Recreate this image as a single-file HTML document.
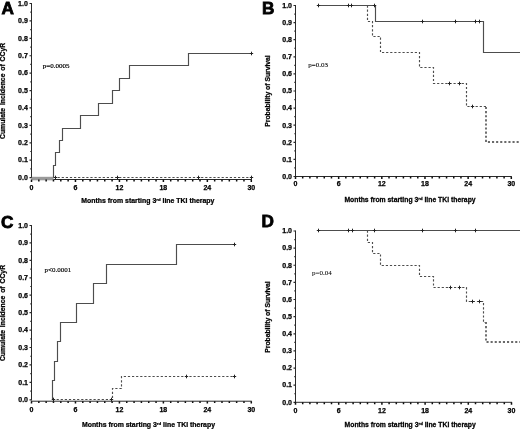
<!DOCTYPE html>
<html><head><meta charset="utf-8"><style>
html,body{margin:0;padding:0;background:#fff;width:520px;height:429px;overflow:hidden}
svg{display:block;filter:blur(0.3px)}
.t{font-family:"Liberation Sans",sans-serif;font-weight:bold;font-size:7px;fill:#000;stroke:#000;stroke-width:0.25px}
.L{font-family:"Liberation Sans",sans-serif;font-weight:bold;font-size:17.2px;fill:#000;stroke:#000;stroke-width:0.8px}
.p{font-family:"Liberation Serif",serif;font-size:7px;fill:#000;stroke:#000;stroke-width:0.2px}
</style></head><body>
<svg width="520" height="429" viewBox="0 0 520 429">
<rect width="520" height="429" fill="#fff"/>
<g>
<path d="M31.5 3 V178.2" stroke="#2a2a2a" stroke-width="1" fill="none"/>
<path d="M53.5 179.5 H251.8" stroke="#2a2a2a" stroke-width="1" fill="none"/>
<rect x="31.5" y="176.8" width="22" height="3.5" fill="#9a9a9a"/>
<path d="M29.5 177.6 H31.5 M30.3 168.89 H31.5 M29.5 160.19 H31.5 M30.3 151.48 H31.5 M29.5 142.78 H31.5 M30.3 134.07 H31.5 M29.5 125.37 H31.5 M30.3 116.66 H31.5 M29.5 107.96 H31.5 M30.3 99.25 H31.5 M29.5 90.55 H31.5 M30.3 81.84 H31.5 M29.5 73.14 H31.5 M30.3 64.43 H31.5 M29.5 55.73 H31.5 M30.3 47.03 H31.5 M29.5 38.32 H31.5 M30.3 29.61 H31.5 M29.5 20.91 H31.5 M30.3 12.2 H31.5 M29.5 3.5 H31.5 " stroke="#2a2a2a" stroke-width="1.2" fill="none"/>
<path d="M31.5 179.5 V181.9 M38.83 179.5 V181.4 M46.15 179.5 V181.4 M53.48 179.5 V181.4 M60.81 179.5 V181.4 M68.13 179.5 V181.4 M75.46 179.5 V181.9 M82.79 179.5 V181.4 M90.11 179.5 V181.4 M97.44 179.5 V181.4 M104.77 179.5 V181.4 M112.09 179.5 V181.4 M119.42 179.5 V181.9 M126.75 179.5 V181.4 M134.07 179.5 V181.4 M141.4 179.5 V181.4 M148.73 179.5 V181.4 M156.05 179.5 V181.4 M163.38 179.5 V181.9 M170.71 179.5 V181.4 M178.03 179.5 V181.4 M185.36 179.5 V181.4 M192.69 179.5 V181.4 M200.01 179.5 V181.4 M207.34 179.5 V181.9 M214.67 179.5 V181.4 M221.99 179.5 V181.4 M229.32 179.5 V181.4 M236.65 179.5 V181.4 M243.97 179.5 V181.4 M251.3 179.5 V181.9 " stroke="#111" stroke-width="1.5" fill="none"/>
<text class="t" x="27.8" y="179.9" text-anchor="end">0.0</text>
<text class="t" x="27.8" y="162.49" text-anchor="end">0.1</text>
<text class="t" x="27.8" y="145.08" text-anchor="end">0.2</text>
<text class="t" x="27.8" y="127.67" text-anchor="end">0.3</text>
<text class="t" x="27.8" y="110.26" text-anchor="end">0.4</text>
<text class="t" x="27.8" y="92.85" text-anchor="end">0.5</text>
<text class="t" x="27.8" y="75.44" text-anchor="end">0.6</text>
<text class="t" x="27.8" y="58.03" text-anchor="end">0.7</text>
<text class="t" x="27.8" y="40.62" text-anchor="end">0.8</text>
<text class="t" x="27.8" y="23.21" text-anchor="end">0.9</text>
<text class="t" x="27.8" y="5.8" text-anchor="end">1.0</text>
<text class="t" x="31.5" y="189.8" text-anchor="middle">0</text>
<text class="t" x="75.46" y="189.8" text-anchor="middle">6</text>
<text class="t" x="119.42" y="189.8" text-anchor="middle">12</text>
<text class="t" x="163.38" y="189.8" text-anchor="middle">18</text>
<text class="t" x="207.34" y="189.8" text-anchor="middle">24</text>
<text class="t" x="251.3" y="189.8" text-anchor="middle">30</text>
<text class="t" transform="translate(81.3 203) scale(0.99 1)">Months from starting 3<tspan font-size="4.4" dy="-2">rd</tspan><tspan dy="2"> line TKI therapy</tspan></text>
<text class="t" transform="translate(4.5 90.9) rotate(-90) scale(0.975 1)" text-anchor="middle" word-spacing="1.0">Cumulate Incidence of CCyR</text>
<text class="L" x="1.4" y="14.05">A</text>
<text class="p" transform="translate(42.8 68) scale(1 1)" style="stroke-width:0.2px">p=0.0005</text>
<path d="M53.5 177.5 L251.5 177.5" stroke="#4d4d4d" stroke-width="1.15" fill="none" stroke-dasharray="2.2 1.9"/>
<path d="M53.5 177.5 L53.5 165.5 L55.5 165.5 L55.5 152.5 L59.5 152.5 L59.5 140.5 L62.5 140.5 L62.5 128.5 L80.5 128.5 L80.5 115.5 L98.5 115.5 L98.5 103.5 L112.5 103.5 L112.5 90.5 L119.5 90.5 L119.5 78.5 L129.5 78.5 L129.5 65.5 L188.5 65.5 L188.5 53.5 L251.5 53.5" stroke="#4d4d4d" stroke-width="1.15" fill="none"/>
<path d="M251.5 51.7 V55.3 M249.8 53.5 H253.2 M55.5 175.7 V179.3 M53.8 177.5 H57.2 M117.5 175.7 V179.3 M115.8 177.5 H119.2 M198.5 175.7 V179.3 M196.8 177.5 H200.2 M251.5 175.7 V179.3 M249.8 177.5 H253.2 " stroke="#222" stroke-width="1" fill="none"/>
</g>
<g>
<path d="M295.5 5 V177.1" stroke="#2a2a2a" stroke-width="1" fill="none"/>
<path d="M295 176.5 H511.8" stroke="#2a2a2a" stroke-width="1" fill="none"/>
<path d="M293.5 176.5 H295.5 M294.3 167.95 H295.5 M293.5 159.4 H295.5 M294.3 150.85 H295.5 M293.5 142.3 H295.5 M294.3 133.75 H295.5 M293.5 125.2 H295.5 M294.3 116.65 H295.5 M293.5 108.1 H295.5 M294.3 99.55 H295.5 M293.5 91 H295.5 M294.3 82.45 H295.5 M293.5 73.9 H295.5 M294.3 65.35 H295.5 M293.5 56.8 H295.5 M294.3 48.25 H295.5 M293.5 39.7 H295.5 M294.3 31.15 H295.5 M293.5 22.6 H295.5 M294.3 14.05 H295.5 M293.5 5.5 H295.5 " stroke="#2a2a2a" stroke-width="1.2" fill="none"/>
<path d="M295.5 176.5 V178.9 M302.69 176.5 V178.4 M309.89 176.5 V178.4 M317.08 176.5 V178.4 M324.27 176.5 V178.4 M331.47 176.5 V178.4 M338.66 176.5 V178.9 M345.85 176.5 V178.4 M353.05 176.5 V178.4 M360.24 176.5 V178.4 M367.43 176.5 V178.4 M374.63 176.5 V178.4 M381.82 176.5 V178.9 M389.01 176.5 V178.4 M396.21 176.5 V178.4 M403.4 176.5 V178.4 M410.59 176.5 V178.4 M417.79 176.5 V178.4 M424.98 176.5 V178.9 M432.17 176.5 V178.4 M439.37 176.5 V178.4 M446.56 176.5 V178.4 M453.75 176.5 V178.4 M460.95 176.5 V178.4 M468.14 176.5 V178.9 M475.33 176.5 V178.4 M482.53 176.5 V178.4 M489.72 176.5 V178.4 M496.91 176.5 V178.4 M504.11 176.5 V178.4 M511.3 176.5 V178.9 " stroke="#111" stroke-width="1.5" fill="none"/>
<text class="t" x="292" y="178.8" text-anchor="end">0.0</text>
<text class="t" x="292" y="161.7" text-anchor="end">0.1</text>
<text class="t" x="292" y="144.6" text-anchor="end">0.2</text>
<text class="t" x="292" y="127.5" text-anchor="end">0.3</text>
<text class="t" x="292" y="110.4" text-anchor="end">0.4</text>
<text class="t" x="292" y="93.3" text-anchor="end">0.5</text>
<text class="t" x="292" y="76.2" text-anchor="end">0.6</text>
<text class="t" x="292" y="59.1" text-anchor="end">0.7</text>
<text class="t" x="292" y="42" text-anchor="end">0.8</text>
<text class="t" x="292" y="24.9" text-anchor="end">0.9</text>
<text class="t" x="292" y="7.8" text-anchor="end">1.0</text>
<text class="t" x="295.5" y="186.2" text-anchor="middle">0</text>
<text class="t" x="338.66" y="186.2" text-anchor="middle">6</text>
<text class="t" x="381.82" y="186.2" text-anchor="middle">12</text>
<text class="t" x="424.98" y="186.2" text-anchor="middle">18</text>
<text class="t" x="468.14" y="186.2" text-anchor="middle">24</text>
<text class="t" x="511.3" y="186.2" text-anchor="middle">30</text>
<text class="t" transform="translate(344.4 201.8) scale(0.975 1)">Months from starting 3<tspan font-size="4.4" dy="-2">rd</tspan><tspan dy="2"> line TKI therapy</tspan></text>
<text class="t" transform="translate(269.8 91) rotate(-90) scale(0.97 1)" text-anchor="middle" word-spacing="0">Probability of Survival</text>
<text class="L" x="261.9" y="14.05">B</text>
<text class="p" transform="translate(308.3 67.3) scale(1 1)" style="stroke-width:0.08px">p=0.03</text>
<path d="M367.5 5.5 L367.5 21.5 L372.5 21.5 L372.5 36.5 L380.5 36.5 L380.5 52.5 L419.5 52.5 L419.5 67.5 L433.5 67.5 L433.5 83.5 L466.5 83.5 L466.5 106.5 L486.5 106.5" stroke="#4d4d4d" stroke-width="1.15" fill="none" stroke-dasharray="2.2 1.9"/>
<path d="M486 107 L486 142 L520 142" stroke="#6a6a6a" stroke-width="1.9" fill="none" stroke-dasharray="2.1 2.0"/>
<path d="M318.5 5.5 L375.5 5.5 L375.5 21.5 L483.5 21.5 L483.5 52.5 L520 52.5" stroke="#4d4d4d" stroke-width="1.15" fill="none"/>
<path d="M318.5 3.7 V7.3 M316.8 5.5 H320.2 M348.5 3.7 V7.3 M346.8 5.5 H350.2 M351.5 3.7 V7.3 M349.8 5.5 H353.2 M374.5 3.7 V7.3 M372.8 5.5 H376.2 M422.5 19.7 V23.3 M420.8 21.5 H424.2 M455.5 19.7 V23.3 M453.8 21.5 H457.2 M475.5 19.7 V23.3 M473.8 21.5 H477.2 M479.5 19.7 V23.3 M477.8 21.5 H481.2 M449.5 81.7 V85.3 M447.8 83.5 H451.2 M459.5 81.7 V85.3 M457.8 83.5 H461.2 M472.5 104.7 V108.3 M470.8 106.5 H474.2 " stroke="#222" stroke-width="1" fill="none"/>
</g>
<g>
<path d="M31.5 225 V400.4" stroke="#2a2a2a" stroke-width="1" fill="none"/>
<path d="M31 401.2 H251.8" stroke="#2a2a2a" stroke-width="1" fill="none"/>
<path d="M29.5 399.8 H31.5 M30.3 391.09 H31.5 M29.5 382.37 H31.5 M30.3 373.66 H31.5 M29.5 364.94 H31.5 M30.3 356.23 H31.5 M29.5 347.51 H31.5 M30.3 338.8 H31.5 M29.5 330.08 H31.5 M30.3 321.37 H31.5 M29.5 312.65 H31.5 M30.3 303.94 H31.5 M29.5 295.22 H31.5 M30.3 286.5 H31.5 M29.5 277.79 H31.5 M30.3 269.07 H31.5 M29.5 260.36 H31.5 M30.3 251.64 H31.5 M29.5 242.93 H31.5 M30.3 234.21 H31.5 M29.5 225.5 H31.5 " stroke="#2a2a2a" stroke-width="1.2" fill="none"/>
<path d="M31.5 401.2 V403.6 M38.83 401.2 V403.1 M46.15 401.2 V403.1 M53.48 401.2 V403.1 M60.81 401.2 V403.1 M68.13 401.2 V403.1 M75.46 401.2 V403.6 M82.79 401.2 V403.1 M90.11 401.2 V403.1 M97.44 401.2 V403.1 M104.77 401.2 V403.1 M112.09 401.2 V403.1 M119.42 401.2 V403.6 M126.75 401.2 V403.1 M134.07 401.2 V403.1 M141.4 401.2 V403.1 M148.73 401.2 V403.1 M156.05 401.2 V403.1 M163.38 401.2 V403.6 M170.71 401.2 V403.1 M178.03 401.2 V403.1 M185.36 401.2 V403.1 M192.69 401.2 V403.1 M200.01 401.2 V403.1 M207.34 401.2 V403.6 M214.67 401.2 V403.1 M221.99 401.2 V403.1 M229.32 401.2 V403.1 M236.65 401.2 V403.1 M243.97 401.2 V403.1 M251.3 401.2 V403.6 " stroke="#111" stroke-width="1.5" fill="none"/>
<text class="t" x="28" y="402.1" text-anchor="end">0.0</text>
<text class="t" x="28" y="384.67" text-anchor="end">0.1</text>
<text class="t" x="28" y="367.24" text-anchor="end">0.2</text>
<text class="t" x="28" y="349.81" text-anchor="end">0.3</text>
<text class="t" x="28" y="332.38" text-anchor="end">0.4</text>
<text class="t" x="28" y="314.95" text-anchor="end">0.5</text>
<text class="t" x="28" y="297.52" text-anchor="end">0.6</text>
<text class="t" x="28" y="280.09" text-anchor="end">0.7</text>
<text class="t" x="28" y="262.66" text-anchor="end">0.8</text>
<text class="t" x="28" y="245.23" text-anchor="end">0.9</text>
<text class="t" x="28" y="227.8" text-anchor="end">1.0</text>
<text class="t" x="31.5" y="412" text-anchor="middle">0</text>
<text class="t" x="75.46" y="412" text-anchor="middle">6</text>
<text class="t" x="119.42" y="412" text-anchor="middle">12</text>
<text class="t" x="163.38" y="412" text-anchor="middle">18</text>
<text class="t" x="207.34" y="412" text-anchor="middle">24</text>
<text class="t" x="251.3" y="412" text-anchor="middle">30</text>
<text class="t" transform="translate(81.9 426.8) scale(0.99 1)">Months from starting 3<tspan font-size="4.4" dy="-2">rd</tspan><tspan dy="2"> line TKI therapy</tspan></text>
<text class="t" transform="translate(4.5 313) rotate(-90) scale(0.975 1)" text-anchor="middle" word-spacing="1.0">Cumulate Incidence of CCyR</text>
<text class="L" x="0.9" y="227.75">C</text>
<text class="p" transform="translate(44.5 271.9) scale(1 1)" style="stroke-width:0.15px">p&lt;0.0001</text>
<path d="M52.5 399.5 L112.5 399.5 L112.5 388.5 L121.5 388.5 L121.5 376.5 L234.5 376.5" stroke="#4d4d4d" stroke-width="1.15" fill="none" stroke-dasharray="2.2 1.9"/>
<path d="M52.5 399.5 L52.5 380.5 L54.5 380.5 L54.5 361.5 L57.5 361.5 L57.5 341.5 L60.5 341.5 L60.5 322.5 L76.5 322.5 L76.5 303.5 L93.5 303.5 L93.5 283.5 L106.5 283.5 L106.5 264.5 L176.5 264.5 L176.5 244.5 L234.5 244.5" stroke="#4d4d4d" stroke-width="1.15" fill="none"/>
<path d="M234.5 242.7 V246.3 M232.8 244.5 H236.2 M53.5 397.7 V401.3 M51.8 399.5 H55.2 M111.5 397.7 V401.3 M109.8 399.5 H113.2 M186.5 374.7 V378.3 M184.8 376.5 H188.2 M234.5 374.7 V378.3 M232.8 376.5 H236.2 " stroke="#222" stroke-width="1" fill="none"/>
</g>
<g>
<path d="M295.5 230.5 V402.9" stroke="#2a2a2a" stroke-width="1" fill="none"/>
<path d="M295 402.3 H512" stroke="#2a2a2a" stroke-width="1" fill="none"/>
<path d="M293.5 402.3 H295.5 M294.3 393.74 H295.5 M293.5 385.17 H295.5 M294.3 376.61 H295.5 M293.5 368.04 H295.5 M294.3 359.48 H295.5 M293.5 350.91 H295.5 M294.3 342.35 H295.5 M293.5 333.78 H295.5 M294.3 325.22 H295.5 M293.5 316.65 H295.5 M294.3 308.08 H295.5 M293.5 299.52 H295.5 M294.3 290.95 H295.5 M293.5 282.39 H295.5 M294.3 273.82 H295.5 M293.5 265.26 H295.5 M294.3 256.69 H295.5 M293.5 248.13 H295.5 M294.3 239.56 H295.5 M293.5 231 H295.5 " stroke="#2a2a2a" stroke-width="1.2" fill="none"/>
<path d="M295.5 402.3 V404.7 M302.7 402.3 V404.2 M309.9 402.3 V404.2 M317.1 402.3 V404.2 M324.3 402.3 V404.2 M331.5 402.3 V404.2 M338.7 402.3 V404.7 M345.9 402.3 V404.2 M353.1 402.3 V404.2 M360.3 402.3 V404.2 M367.5 402.3 V404.2 M374.7 402.3 V404.2 M381.9 402.3 V404.7 M389.1 402.3 V404.2 M396.3 402.3 V404.2 M403.5 402.3 V404.2 M410.7 402.3 V404.2 M417.9 402.3 V404.2 M425.1 402.3 V404.7 M432.3 402.3 V404.2 M439.5 402.3 V404.2 M446.7 402.3 V404.2 M453.9 402.3 V404.2 M461.1 402.3 V404.2 M468.3 402.3 V404.7 M475.5 402.3 V404.2 M482.7 402.3 V404.2 M489.9 402.3 V404.2 M497.1 402.3 V404.2 M504.3 402.3 V404.2 M511.5 402.3 V404.7 " stroke="#111" stroke-width="1.5" fill="none"/>
<text class="t" x="292" y="404.6" text-anchor="end">0.0</text>
<text class="t" x="292" y="387.47" text-anchor="end">0.1</text>
<text class="t" x="292" y="370.34" text-anchor="end">0.2</text>
<text class="t" x="292" y="353.21" text-anchor="end">0.3</text>
<text class="t" x="292" y="336.08" text-anchor="end">0.4</text>
<text class="t" x="292" y="318.95" text-anchor="end">0.5</text>
<text class="t" x="292" y="301.82" text-anchor="end">0.6</text>
<text class="t" x="292" y="284.69" text-anchor="end">0.7</text>
<text class="t" x="292" y="267.56" text-anchor="end">0.8</text>
<text class="t" x="292" y="250.43" text-anchor="end">0.9</text>
<text class="t" x="292" y="233.3" text-anchor="end">1.0</text>
<text class="t" x="295.5" y="412.9" text-anchor="middle">0</text>
<text class="t" x="338.7" y="412.9" text-anchor="middle">6</text>
<text class="t" x="381.9" y="412.9" text-anchor="middle">12</text>
<text class="t" x="425.1" y="412.9" text-anchor="middle">18</text>
<text class="t" x="468.3" y="412.9" text-anchor="middle">24</text>
<text class="t" x="511.5" y="412.9" text-anchor="middle">30</text>
<text class="t" transform="translate(344.6 427.3) scale(0.975 1)">Months from starting 3<tspan font-size="4.4" dy="-2">rd</tspan><tspan dy="2"> line TKI therapy</tspan></text>
<text class="t" transform="translate(269.8 317) rotate(-90) scale(0.97 1)" text-anchor="middle" word-spacing="0">Probability of Survival</text>
<text class="L" x="261.5" y="227.25">D</text>
<text class="p" transform="translate(312.1 274.7) scale(1 1)" style="stroke-width:0.05px">p=0.04</text>
<path d="M367.5 230.5 L367.5 242.5 L372.5 242.5 L372.5 253.5 L380.5 253.5 L380.5 265.5 L419.5 265.5 L419.5 276.5 L433.5 276.5 L433.5 287.5 L466.5 287.5 L466.5 301.5 L483.5 301.5 L483.5 322.5 L486.5 322.5" stroke="#4d4d4d" stroke-width="1.15" fill="none" stroke-dasharray="2.2 1.9"/>
<path d="M486 322 L486 342 L520 342" stroke="#6a6a6a" stroke-width="1.9" fill="none" stroke-dasharray="2.1 2.0"/>
<path d="M318.5 230.5 L520 230.5" stroke="#4d4d4d" stroke-width="1.15" fill="none"/>
<path d="M318.5 228.7 V232.3 M316.8 230.5 H320.2 M348.5 228.7 V232.3 M346.8 230.5 H350.2 M352.5 228.7 V232.3 M350.8 230.5 H354.2 M374.5 228.7 V232.3 M372.8 230.5 H376.2 M422.5 228.7 V232.3 M420.8 230.5 H424.2 M455.5 228.7 V232.3 M453.8 230.5 H457.2 M475.5 228.7 V232.3 M473.8 230.5 H477.2 M450.5 285.7 V289.3 M448.8 287.5 H452.2 M459.5 285.7 V289.3 M457.8 287.5 H461.2 M472.5 299.7 V303.3 M470.8 301.5 H474.2 M479.5 299.7 V303.3 M477.8 301.5 H481.2 " stroke="#222" stroke-width="1" fill="none"/>
</g>
</svg>
</body></html>
